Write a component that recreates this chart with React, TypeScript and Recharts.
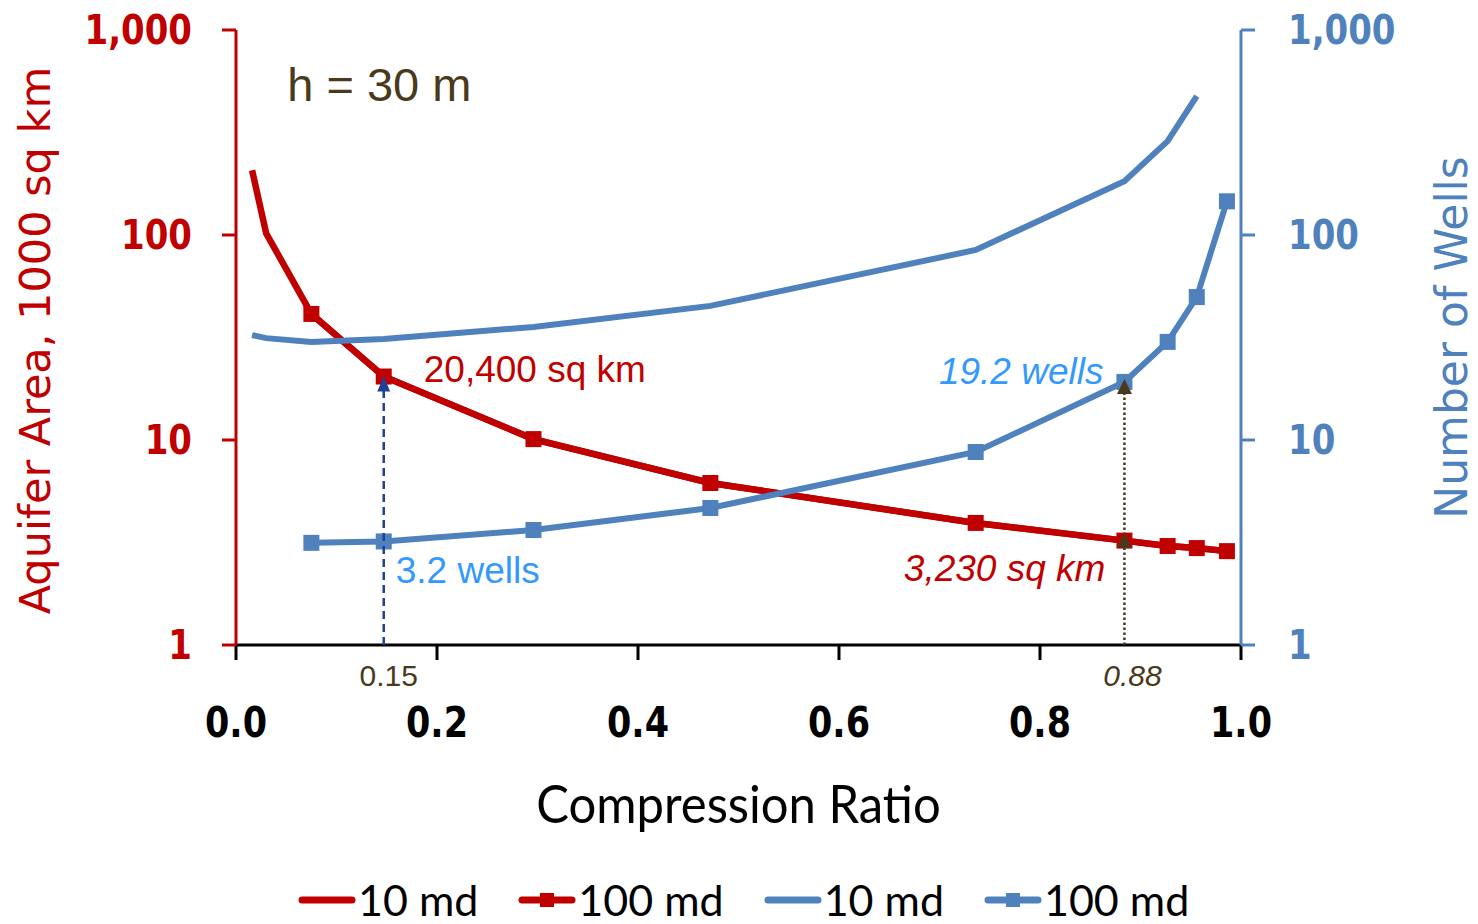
import React from 'react'
import {
  LineChart,
  Line,
  XAxis,
  YAxis,
  ReferenceLine,
  ReferenceDot,
  Legend,
} from 'recharts'

// Aquifer area (left, log) and number of wells (right, log) vs compression ratio, h = 30 m.

const RED = '#C00000'
const BLUE = '#4F81BD'
const LIGHT_BLUE = '#3399FF'
const BROWN = '#4A3A1C'
const NAVY = '#1F3F99'

const ratio = [0.016, 0.03, 0.075, 0.147, 0.296, 0.472, 0.736, 0.884, 0.927, 0.956, 0.986]
const area10md = [207, 102, 41.2, 20.4, 10.1, 6.17, 3.94, 3.23, 3.04, 2.97, 2.87]
const area100md = [null, null, 41.2, 20.4, 10.1, 6.17, 3.94, 3.23, 3.04, 2.97, 2.87]
const wells10md = [32.5, 31.4, 30.1, 31.1, 35.6, 45.1, 84.5, 183, 287, 476, null]
const wells100md = [null, null, 3.15, 3.2, 3.64, 4.66, 8.74, 19.2, 30.1, 49.8, 146]

const xTicks = [0, 0.2, 0.4, 0.6, 0.8, 1.0]
const logTicks = [1, 10, 100, 1000]

const data = ratio.map((x, i) => ({
  x,
  area10: area10md[i],
  area100: area100md[i],
  wells10: wells10md[i],
  wells100: wells100md[i],
}))

const SERIES = [
  { key: 'area10', name: '10 md', color: RED, axis: 'left', marker: false, width: 6.5 },
  { key: 'area100', name: '100 md', color: RED, axis: 'left', marker: true, width: 6.5 },
  { key: 'wells10', name: '10 md', color: BLUE, axis: 'right', marker: false, width: 6 },
  { key: 'wells100', name: '100 md', color: BLUE, axis: 'right', marker: true, width: 6 },
]

const TICK_FONT = 'DejaVu Sans, Verdana, sans-serif'
const NOTE_FONT = 'Liberation Sans, Arial, sans-serif'

const fmtThousands = (v: number) => v.toLocaleString('en-US')

function XTick({ x, y, payload }: any) {
  return (
    <text
      transform={`translate(${x},${y + 62}) scale(1,1.2)`}
      textAnchor="middle"
      dominantBaseline="central"
      fill="#000"
      fontFamily={TICK_FONT}
      fontWeight={700}
      fontSize={35}
    >
      {Number(payload.value).toFixed(1)}
    </text>
  )
}

function makeYTick(color: string, side: 'left' | 'right') {
  return ({ x, y, payload }: any) => (
    <text
      transform={`translate(${side === 'left' ? x - 30 : x + 33},${y}) scale(1,1.2)`}
      textAnchor={side === 'left' ? 'end' : 'start'}
      dominantBaseline="central"
      fill={color}
      fontFamily={TICK_FONT}
      fontWeight={700}
      fontSize={34}
    >
      {fmtThousands(payload.value)}
    </text>
  )
}

function squareDot(color: string) {
  return (props: any) => {
    const { cx, cy, index } = props
    if (cx == null || cy == null || Number.isNaN(cy)) return <g key={`d-${index}`} />
    return <rect key={`d-${index}`} x={cx - 8} y={cy - 8} width={16} height={16} fill={color} />
  }
}

// text anchored to a data point, shifted by a pixel offset
function note(label: string, color: string, dx: number, dy: number, opts: any = {}) {
  return (p: any) => (
    <text
      x={p.cx + dx}
      y={p.cy + dy}
      fill={color}
      fontFamily={NOTE_FONT}
      fontSize={opts.size ?? 37}
      fontStyle={opts.italic ? 'italic' : 'normal'}
      textAnchor={opts.anchor ?? 'start'}
      dominantBaseline="central"
    >
      {label}
    </text>
  )
}

function arrowHead(color: string, tipOff: number, h: number, w: number) {
  return (p: any) => (
    <path
      d={`M${p.cx},${p.cy + tipOff} L${p.cx - w / 2},${p.cy + tipOff + h} L${p.cx + w / 2},${p.cy + tipOff + h} Z`}
      fill={color}
    />
  )
}

function LegendContent() {
  return (
    <div
      style={{
        display: 'flex',
        alignItems: 'center',
        paddingLeft: 298,
        height: 48,
        fontFamily: 'Lato, sans-serif',
        fontSize: 43,
        color: '#000',
      }}
    >
      {SERIES.map((s) => (
        <div key={s.key} style={{ display: 'flex', alignItems: 'center', marginRight: 40 }}>
          <svg width={58} height={20}>
            <line x1={4} y1={10} x2={54} y2={10} stroke={s.color} strokeWidth={7} strokeLinecap="round" />
            {s.marker && <rect x={22} y={3} width={14} height={14} fill={s.color} />}
          </svg>
          <span style={{ marginLeft: 2, lineHeight: '48px' }}>{s.name}</span>
        </div>
      ))}
    </div>
  )
}

export default function App() {
  return (
    <div
      style={{
        position: 'absolute',
        left: 0,
        top: 0,
        width: 1478,
        height: 924,
        overflow: 'hidden',
        background: '#fff',
      }}
    >
      <LineChart width={1478} height={924} data={data} margin={{ top: 30, right: 0, left: 0, bottom: 0 }}>
        <XAxis
          dataKey="x"
          type="number"
          domain={[0, 1]}
          ticks={xTicks}
          allowDataOverflow
          height={231}
          stroke="#000"
          axisLine={{ stroke: '#000', strokeWidth: 3 }}
          tickLine={{ stroke: '#000', strokeWidth: 3 }}
          tickSize={15}
          tickMargin={0}
          tick={<XTick />}
          label={({ viewBox }: any) => (
            <text
              transform={`translate(${viewBox.x + viewBox.width / 2},${viewBox.y + 158}) scale(1,1.05)`}
              textAnchor="middle"
              dominantBaseline="central"
              fill="#000"
              fontFamily="Lato, sans-serif"
              fontSize={49}
            >
              Compression Ratio
            </text>
          )}
        />
        <YAxis
          yAxisId="left"
          orientation="left"
          scale="log"
          domain={[1, 1000]}
          ticks={logTicks}
          allowDataOverflow
          width={236}
          stroke={RED}
          axisLine={{ stroke: RED, strokeWidth: 3 }}
          tickLine={{ stroke: RED, strokeWidth: 3 }}
          tickSize={14}
          tickMargin={0}
          tick={makeYTick(RED, 'left')}
          label={({ viewBox }: any) => (
            <text
              transform={`translate(${viewBox.x + 35},${viewBox.y + viewBox.height / 2 + 3}) rotate(-90)`}
              textAnchor="middle"
              dominantBaseline="central"
              fill={RED}
              fontFamily={TICK_FONT}
              fontSize={43}
            >
              Aquifer Area, 1000 sq km
            </text>
          )}
        />
        <YAxis
          yAxisId="right"
          orientation="right"
          scale="log"
          domain={[1, 1000]}
          ticks={logTicks}
          allowDataOverflow
          width={237}
          stroke={BLUE}
          axisLine={{ stroke: BLUE, strokeWidth: 3 }}
          tickLine={{ stroke: BLUE, strokeWidth: 3 }}
          tickSize={14}
          tickMargin={0}
          tick={makeYTick(BLUE, 'right')}
          label={({ viewBox }: any) => (
            <text
              transform={`translate(${viewBox.x + 210},${viewBox.y + viewBox.height / 2}) rotate(-90)`}
              textAnchor="middle"
              dominantBaseline="central"
              fill={BLUE}
              fontFamily={TICK_FONT}
              fontSize={44}
            >
              Number of Wells
            </text>
          )}
        />
        <Legend verticalAlign="bottom" align="left" content={<LegendContent />} wrapperStyle={{ height: 48, left: 0, bottom: 0 }} />

        {SERIES.map((s) => (
          <Line
            key={s.key}
            yAxisId={s.axis}
            type="linear"
            dataKey={s.key}
            name={s.name}
            stroke={s.color}
            strokeWidth={s.width}
            dot={s.marker ? squareDot(s.color) : false}
            activeDot={false}
            isAnimationActive={false}
          />
        ))}

        {/* guide lines, drawn above the series */}
        <ReferenceLine
          yAxisId="left"
          segment={[{ x: 0.147, y: 1 }, { x: 0.147, y: 20.4 }]}
          stroke={NAVY}
          strokeWidth={2.5}
          strokeDasharray="8 5"
          ifOverflow="visible"
          zIndex={1000}
        />
        <ReferenceLine
          yAxisId="left"
          segment={[{ x: 0.884, y: 1 }, { x: 0.884, y: 19.2 }]}
          stroke={BROWN}
          strokeWidth={2.5}
          strokeDasharray="2.5 2.5"
          ifOverflow="visible"
          zIndex={1000}
        />

        {/* arrow heads */}
        <ReferenceDot yAxisId="left" x={0.147} y={20.4} r={0} ifOverflow="visible" zIndex={1100} shape={arrowHead(NAVY, 0, 15, 13)} />
        <ReferenceDot yAxisId="left" x={0.884} y={3.23} r={0} ifOverflow="visible" zIndex={1100} shape={arrowHead(BROWN, -8, 15, 15)} />
        <ReferenceDot yAxisId="right" x={0.884} y={19.2} r={0} ifOverflow="visible" zIndex={1100} shape={arrowHead(BROWN, -3, 15, 15)} />

        {/* annotations */}
        <ReferenceDot yAxisId="left" x={0.051} y={540} r={0} ifOverflow="visible" zIndex={1100} shape={note('h = 30 m', BROWN, 0, 0, { size: 47 })} />
        <ReferenceDot yAxisId="left" x={0.147} y={20.4} r={0} ifOverflow="visible" zIndex={1100} shape={note('20,400 sq km', RED, 40, -7)} />
        <ReferenceDot yAxisId="right" x={0.147} y={3.2} r={0} ifOverflow="visible" zIndex={1100} shape={note('3.2 wells', LIGHT_BLUE, 12, 29)} />
        <ReferenceDot yAxisId="right" x={0.884} y={19.2} r={0} ifOverflow="visible" zIndex={1100} shape={note('19.2 wells', LIGHT_BLUE, -21, -10, { italic: true, anchor: 'end' })} />
        <ReferenceDot yAxisId="left" x={0.884} y={3.23} r={0} ifOverflow="visible" zIndex={1100} shape={note('3,230 sq km', RED, -19, 28, { italic: true, anchor: 'end' })} />
        <ReferenceDot yAxisId="left" x={0.147} y={1} r={0} ifOverflow="visible" zIndex={1100} shape={note('0.15', BROWN, 5, 30, { size: 30, anchor: 'middle' })} />
        <ReferenceDot yAxisId="left" x={0.884} y={1} r={0} ifOverflow="visible" zIndex={1100} shape={note('0.88', BROWN, 8, 30, { size: 30, anchor: 'middle', italic: true })} />
      </LineChart>
    </div>
  )
}
